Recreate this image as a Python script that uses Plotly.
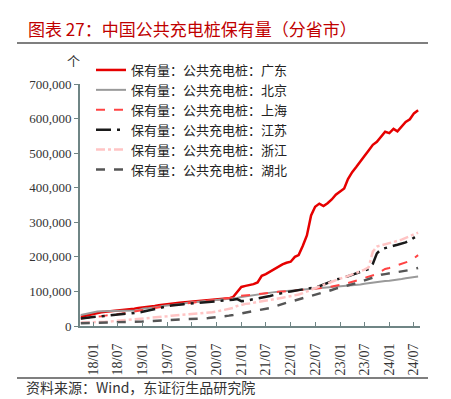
import pandas as pd
import plotly.graph_objects as go

# Monthly data, 2017-10 .. 2024-08 (units: piles)
months = pd.date_range("2017-10-01", "2024-08-01", freq="MS")

guangdong = [27,30,33,36,38,40,41,42,43,44,
             45,46,48,50,52,53,55,56,58,60,
             62,63,65,66,67,68,69,70,71,72,
             72,73,74,75,76,77,80,84,100,113,
             116,118,121,126,145,150,157,166,172,178,
             183,186,200,205,232,262,320,345,354,347,
             355,366,380,390,398,425,445,460,478,492,
             508,524,533,548,562,558,570,563,578,590,
             598,615,624]
beijing = [32,35,38,40,42,43,43,43,43,44,
           44,44,44,45,46,50,51,52,54,56,
           58,59,61,62,64,65,67,68,69,70,
           71,72,73,74,75,76,77,79,81,84,
           86,88,90,91,93,95,97,98,99,100,
           101,102,103,104,105,106,107,108,109,110,
           111,112,113,114,115,116,117,118,120,122,
           124,126,128,129,130,131,132,134,136,138,
           140,142,143]
shanghai = [22,23,25,26,27,28,30,31,33,34,
            36,38,40,42,44,46,48,51,53,55,
            57,58,60,61,63,64,66,67,69,70,
            72,73,75,76,78,79,80,82,86,87,
            88,89,90,92,93,95,96,97,99,100,
            101,102,103,103,104,105,106,107,108,110,
            112,114,116,118,121,124,127,131,135,139,
            142,146,150,158,165,168,172,176,180,184,
            188,196,205]
jiangsu = [22,24,25,26,27,28,29,30,31,32,
           33,34,35,37,39,41,44,47,50,53,
           55,57,59,61,62,63,64,65,66,67,
           68,69,70,71,72,73,74,76,78,72,
           73,75,77,79,81,84,87,90,93,96,
           98,100,102,103,104,106,109,112,115,120,
           125,130,134,137,140,144,148,152,156,160,
           165,180,210,222,226,229,232,235,238,242,
           248,255,263]
zhejiang = [10,10,11,11,12,12,12,13,14,15,
            16,16,17,18,19,20,21,22,23,25,
            27,28,30,31,32,32,33,34,35,36,
            36,38,40,42,44,46,48,52,58,62,
            64,65,67,68,70,72,75,77,80,82,
            84,86,88,91,95,100,105,110,115,119,
            123,128,133,137,140,144,148,152,158,163,
            170,215,230,233,236,239,242,246,250,255,
            260,265,270]
hubei = [8,8,9,9,9,10,10,10,11,11,
         11,12,12,12,13,13,14,14,15,16,
         16,17,17,18,19,19,20,20,21,22,
         22,23,24,25,27,28,30,32,34,36,
         38,40,42,44,46,49,52,56,60,64,
         68,71,74,77,80,83,86,89,92,96,
         100,104,108,111,114,117,120,124,128,132,
         135,140,145,148,150,152,153,155,157,160,
         162,165,168]

series_names = ["保有量：公共充电桩：广东", "保有量：公共充电桩：北京",
                "保有量：公共充电桩：上海", "保有量：公共充电桩：江苏",
                "保有量：公共充电桩：浙江", "保有量：公共充电桩：湖北"]

tick_dates = ["2018-01-01", "2018-07-01", "2019-01-01", "2019-07-01",
              "2020-01-01", "2020-07-01", "2021-01-01", "2021-07-01",
              "2022-01-01", "2022-07-01", "2023-01-01", "2023-07-01",
              "2024-01-01", "2024-07-01"]
tick_labels = ["18/01", "18/07", "19/01", "19/07", "20/01", "20/07", "21/01",
               "21/07", "22/01", "22/07", "23/01", "23/07", "24/01", "24/07"]
y_ticks = [0, 100000, 200000, 300000, 400000, 500000, 600000, 700000]

styles = [
    dict(color="#e60000", width=2.5, dash="solid"),
    dict(color="#9a9a9a", width=2, dash="solid"),
    dict(color="#ff4343", width=2, dash="dash"),
    dict(color="#1a1a1a", width=2.5, dash="longdashdot"),
    dict(color="#ffc4c4", width=2.5, dash="dashdot"),
    dict(color="#555555", width=2.5, dash="dash"),
]
all_series = [guangdong, beijing, shanghai, jiangsu, zhejiang, hubei]

fig = go.Figure()
for name, vals, st in zip(series_names, all_series, styles):
    fig.add_trace(go.Scatter(x=months, y=[v * 1000 for v in vals], mode="lines",
                             name=name, line=st))

# page body has an 8px margin: the figure starts at (8, 8) in the window
OFF = 8
W, H = 451 - OFF, 399 - OFF
L, R, T, B = 80 - OFF, 31, 84 - OFF, 73
pw, ph = W - L - R, H - T - B

def px(x):  # window pixel x -> paper
    return (x - OFF - L) / pw

def py(y):  # window pixel y -> paper
    return (H - B - (y - OFF)) / ph

cjk = "Noto Sans CJK SC"
serif = "Liberation Serif, Noto Sans CJK SC"
axis_col = "#6f8585"

fig.update_layout(
    width=W, height=H,
    margin=dict(l=L, r=R, t=T, b=B, autoexpand=False),
    paper_bgcolor="white", plot_bgcolor="white",
    showlegend=True,
    legend=dict(x=px(91), y=py(55), xanchor="left", yanchor="top",
                font=dict(family=cjk, size=13, color="#222"),
                bgcolor="rgba(0,0,0,0)", itemwidth=30,
                tracegroupgap=0),
    xaxis=dict(type="date", range=["2017-09-25", "2024-08-15"],
               tickvals=tick_dates, ticktext=tick_labels, tickangle=-90,
               ticks="inside", ticklen=4, tickcolor=axis_col,
               showline=True, linecolor=axis_col, linewidth=2,
               showgrid=False, zeroline=False, automargin=False,
               tickfont=dict(family=serif, size=14, color="#333"),
               ticklabelstandoff=10),
    yaxis=dict(range=[0, 700000], tickvals=y_ticks, tickformat=",",
               ticks="outside", ticklen=4, tickcolor=axis_col,
               showline=True, linecolor=axis_col, linewidth=2,
               showgrid=False, zeroline=False, automargin=False,
               tickfont=dict(family=serif, size=13, color="#333")),
)

fig.add_annotation(text="图表 27：中国公共充电桩保有量（分省市）", xref="paper", yref="paper",
                   x=px(26), y=py(29), xanchor="left", yanchor="middle",
                   showarrow=False, font=dict(family=cjk, size=17, color="#c00000"))
fig.add_annotation(text="个", xref="paper", yref="paper",
                   x=px(73), y=py(60), xanchor="center", yanchor="middle",
                   showarrow=False, font=dict(family=cjk, size=13, color="#333"))
fig.add_annotation(text="资料来源：Wind，东证衍生品研究院", xref="paper", yref="paper",
                   x=px(24), y=py(387), xanchor="left", yanchor="middle",
                   showarrow=False, font=dict(family=cjk, size=14, color="#333"))
fig.add_shape(type="line", xref="paper", yref="paper",
              x0=px(17), x1=px(428), y0=py(43), y1=py(43),
              line=dict(color="#7f7f7f", width=2))
fig.add_shape(type="line", xref="paper", yref="paper",
              x0=px(17), x1=px(428), y0=py(378), y1=py(378),
              line=dict(color="#7f7f7f", width=2))

fig.write_html("out.html")
